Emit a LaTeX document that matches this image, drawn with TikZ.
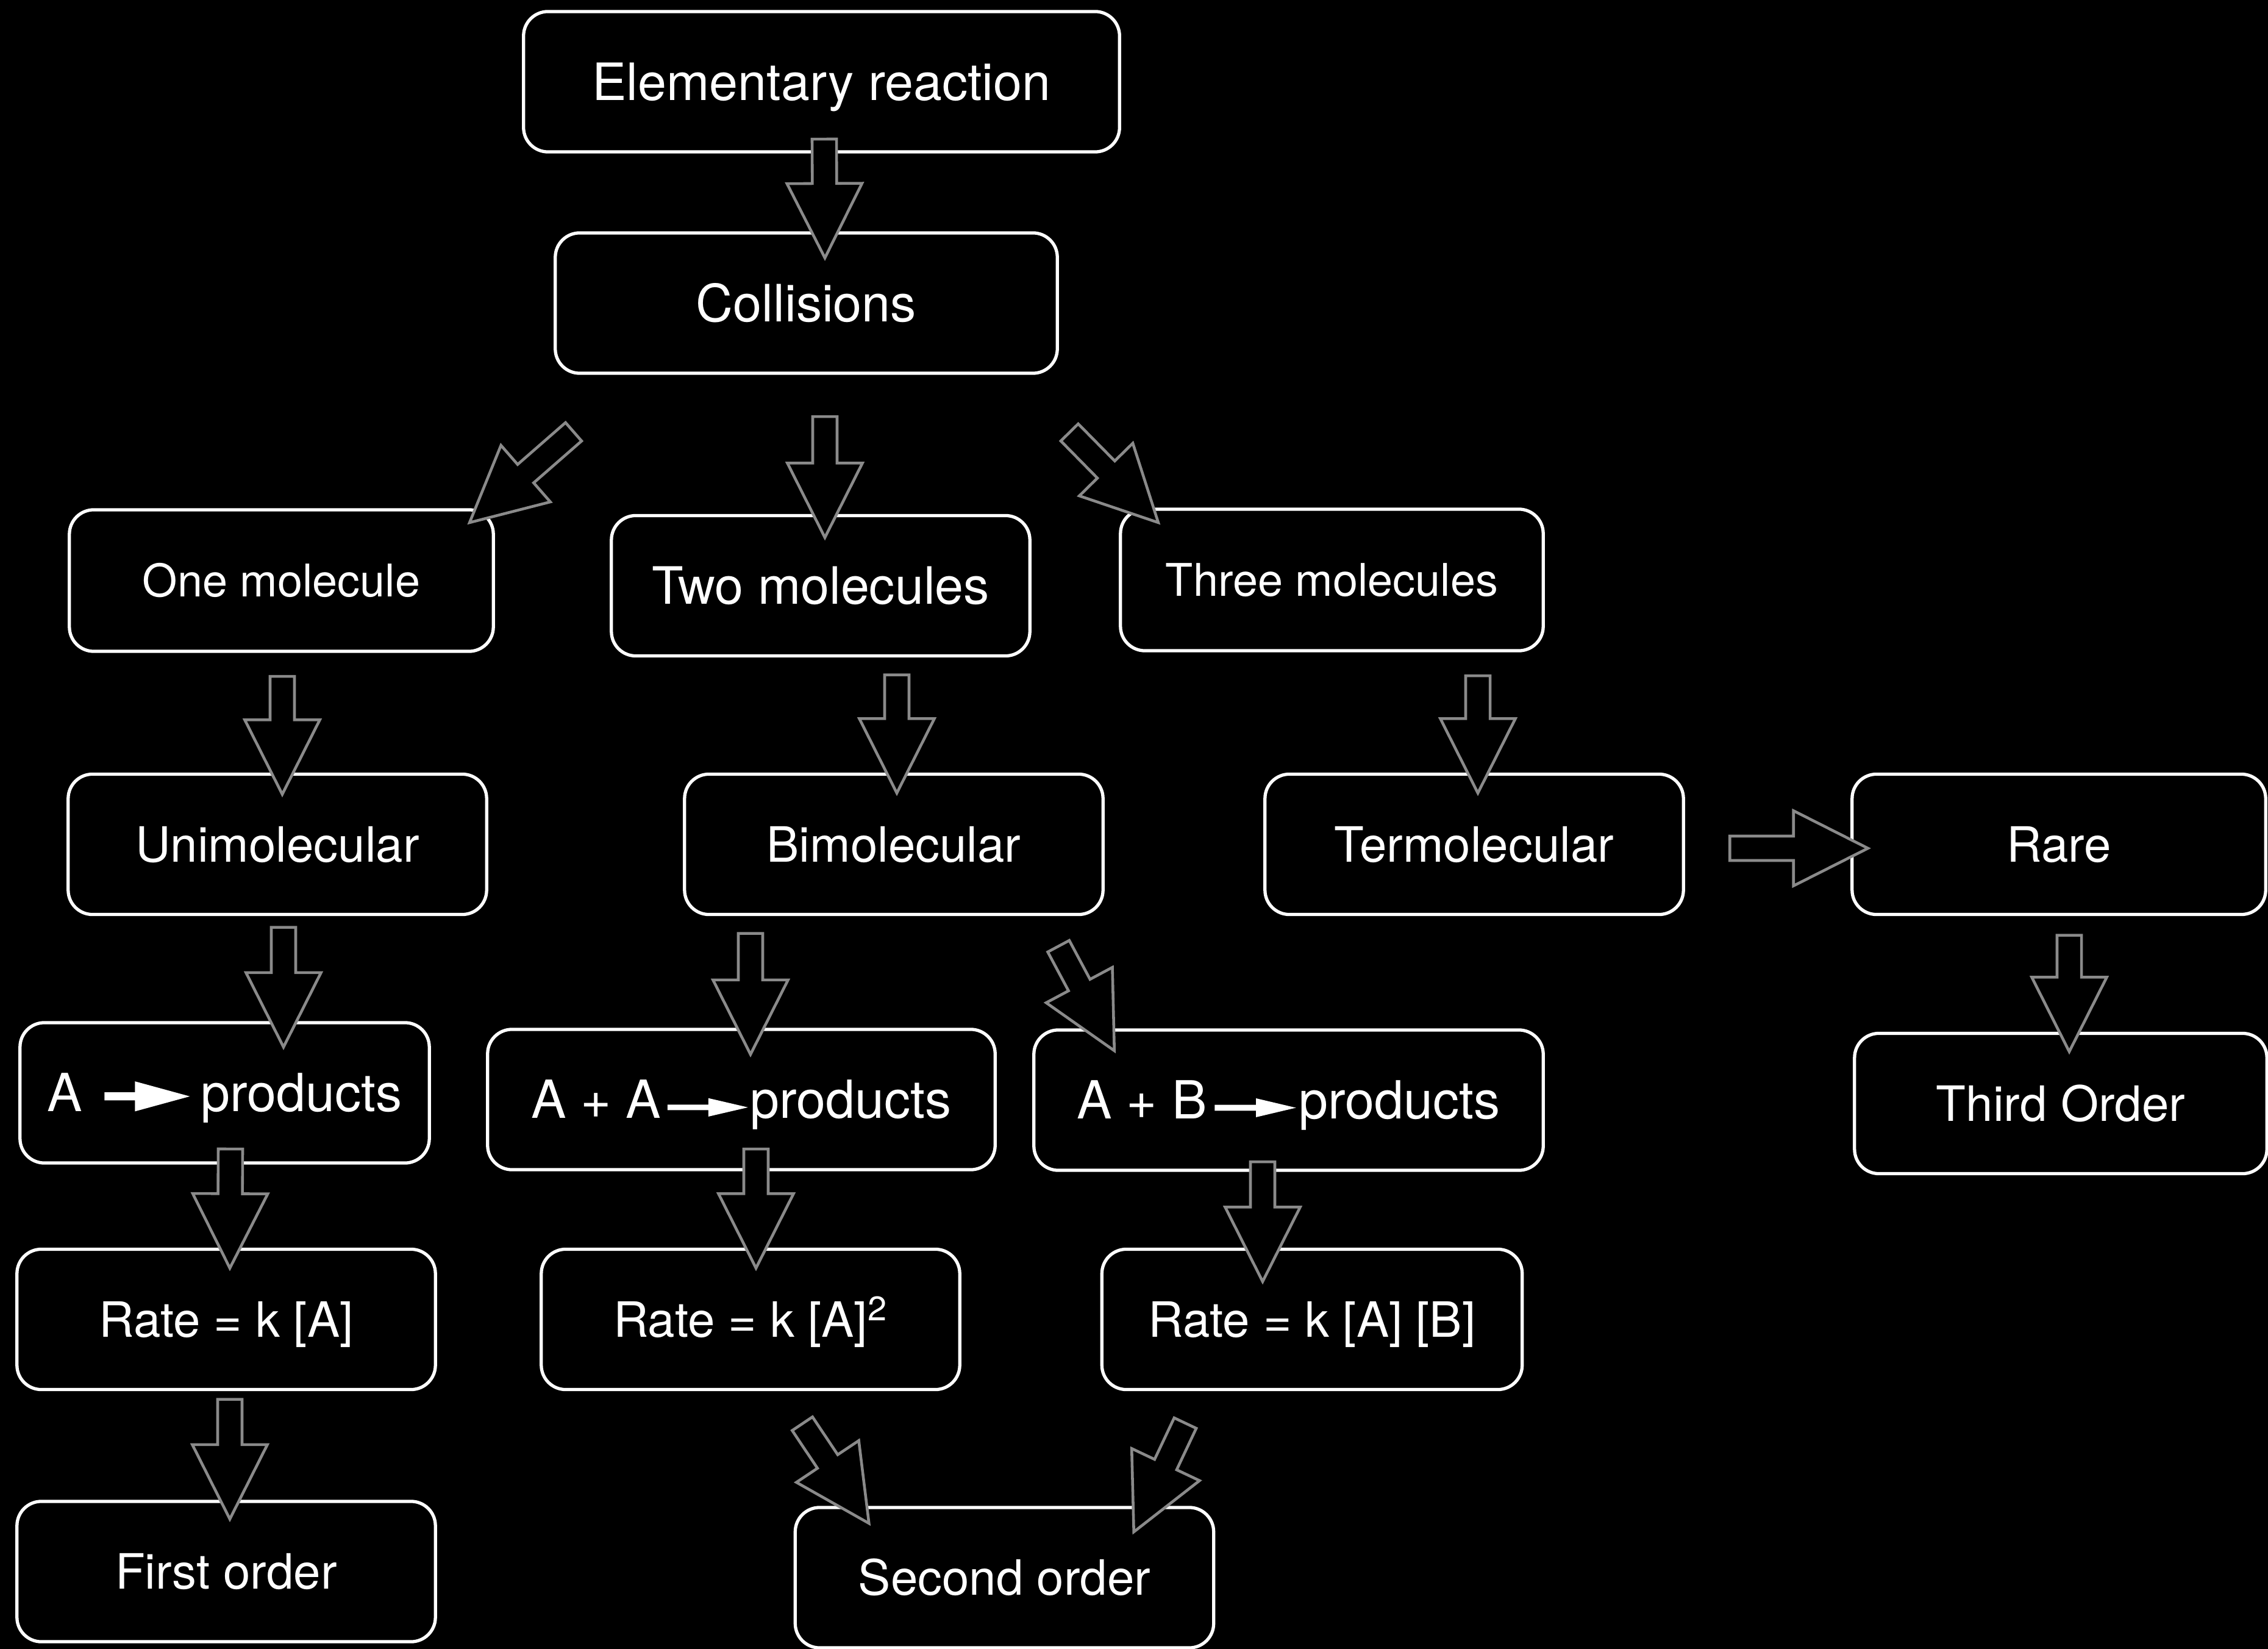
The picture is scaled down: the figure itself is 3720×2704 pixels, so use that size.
\documentclass[tikz,border=0pt]{standalone}
\usepackage{fontspec}
\setmainfont{TeX Gyre Heros}
\usepackage{tikz}
\usetikzlibrary{calc}

\definecolor{arrowgray}{RGB}{138,138,138}

% small solid arrow inside the reaction boxes: raise, shaft, half thickness, head, half head
\newcommand{\prodarrow}[5]{\tikz[baseline=0pt, sharp corners]\fill[white] (0pt,{#1-#3}) -- ({#2},{#1-#3}) -- ({#2},{#1-#5}) -- ({#2+#4},{#1}) -- ({#2},{#1+#5}) -- ({#2},{#1+#3}) -- (0pt,{#1+#3}) -- cycle;}

\begin{document}
\begin{tikzpicture}[x=0.01cm, y=-0.01cm,
    box/.style={rectangle, draw=white, line width=1.5pt, rounded corners=0.4cm, fill=black,
        text=white, minimum width=6.86cm, minimum height=2.3cm, inner sep=0pt, outer sep=0pt,
        font=\fontsize{22.7}{26}\selectfont, text height=16.25pt, text depth=0pt},
    big/.style={font=\fontsize{24}{28}\selectfont, text height=17.2pt},
    small/.style={font=\fontsize{21}{25}\selectfont, text height=15pt},
    react/.style={font=\fontsize{24.5}{28}\selectfont, text height=17.5pt},
    blk/.style={draw=arrowgray, line width=1.3pt, fill=black, line join=miter,
        to path={(\tikztostart) coordinate (bs) (\tikztotarget) coordinate (bt)
            ($(bt)!1.22cm!(bs)$) coordinate (bh)
            ($(bs)!0.2cm!90:(bt)$) -- ($(bh)!0.2cm!90:(bt)$) -- ($(bh)!0.615cm!90:(bt)$)
            -- (bt) -- ($(bh)!0.615cm!-90:(bt)$) -- ($(bh)!0.2cm!-90:(bt)$)
            -- ($(bs)!0.2cm!-90:(bt)$) -- cycle}}]

    \useasboundingbox (0,0) rectangle (3720,2704);
    \fill[black] (0,0) rectangle (3720,2704);

    % Top
    \node[box, big, minimum width=9.77cm] (ELEM) at (1347.5,134) {Elementary reaction};
    \node[box, big, minimum width=8.23cm] (COLL) at (1322.5,497) {Collisions};

    % Number of molecules
    \node[box, small, minimum width=6.95cm, minimum height=2.32cm] (ONE) at (461.5,952) {One molecule};
    \node[box, big] (TWO) at (1346,960.5) {Two molecules};
    \node[box, small, minimum width=6.93cm, minimum height=2.32cm] (THREE) at (2184.5,951) {Three molecules};

    % Molecularity
    \node[box] (UNI) at (455,1384.5) {Unimolecular};
    \node[box] (BI) at (1466,1384.5) {Bimolecular};
    \node[box] (TER) at (2418,1384.5) {Termolecular};
    \node[box, minimum width=6.78cm] (RARE) at (3377,1384.5) {Rare};

    % Reactions
    \node[box, react, minimum width=6.71cm] (AP) at (368.5,1792) {A\hspace{10.4pt}\prodarrow{7.1pt}{14.2pt}{1.9pt}{25.6pt}{7pt}\hspace{5.2pt}products};
    \node[box, react, minimum width=8.32cm] (AAP) at (1216,1803) {A + A\hspace{3pt}\prodarrow{5.1pt}{19pt}{1.3pt}{18.5pt}{4.3pt}\hspace{1.1pt}products};
    \node[box, react, minimum width=8.35cm] (ABP) at (2113.5,1804) {A + B\hspace{3.6pt}\prodarrow{5.2pt}{19.3pt}{1.4pt}{18.6pt}{4.4pt}\hspace{1.4pt}products};
    \node[box, minimum width=6.76cm] (THIRD) at (3380,1809.5) {Third Order};

    % Rate laws
    \node[box] (RA) at (371,2163.5) {Rate = k [A]};
    \node[box] (RAA) at (1231,2163.5) {Rate = k [A]\textsuperscript{2}};
    \node[box, minimum width=6.89cm] (RAB) at (2152,2163.5) {Rate = k [A] [B]};

    % Order
    \node[box] (FIRST) at (371,2577) {First order};
    \node[box] (SECOND) at (1647.5,2587) {Second order};

    % Block arrows
    \draw[blk] ($(ELEM.south)+(4.5,-21)$) to ($(COLL.north)+(30.5,41)$);
    \draw[blk] ($(COLL.south west)+(30,96)$) to ($(ONE.north east)+(-39,21)$);
    \draw[blk] ($(COLL.south)+(30.5,71)$) to ($(TWO.north)+(7,36)$);
    \draw[blk] ($(COLL.south east)+(20,97)$) to ($(THREE.north west)+(62,22)$);
    \draw[blk] ($(ONE.south)+(1.5,41)$) to ($(UNI.north)+(8,33)$);
    \draw[blk] ($(TWO.south)+(125,31)$) to ($(BI.north)+(5,31)$);
    \draw[blk] ($(THREE.south)+(239.5,41)$) to ($(TER.north)+(6,31)$);
    \draw[blk] ($(TER.east)+(76,6.5)$) to ($(RARE.west)+(26,6.5)$);
    \draw[blk] ($(RARE.south)+(17,34)$) to ($(THIRD.north)+(14,30)$);
    \draw[blk] ($(UNI.south)+(10,21)$) to ($(AP.north)+(96.5,40)$);
    \draw[blk] ($(BI.south)+(-235,31)$) to ($(AAP.north)+(15,41)$);
    \draw[blk] ($(BI.south east)+(-73,52)$) to ($(ABP.north west)+(132,34)$);
    \draw[blk] ($(AP.south)+(9.5,-23)$) to ($(RA.north)+(6,31)$);
    \draw[blk] ($(AAP.south)+(24,-34)$) to ($(RAA.north)+(9,31)$);
    \draw[blk] ($(ABP.south)+(-42.5,-14)$) to ($(RAB.north)+(-81,53)$);
    \draw[blk] ($(RA.south)+(6,16)$) to ($(FIRST.north)+(6,29)$);
    \draw[blk] ($(RAA.south)+(85,56)$) to ($(SECOND.north west)+(121,26)$);
    \draw[blk] ($(RAB.south)+(-208,55)$) to ($(SECOND.north east)+(-131,40)$);
\end{tikzpicture}
\end{document}
